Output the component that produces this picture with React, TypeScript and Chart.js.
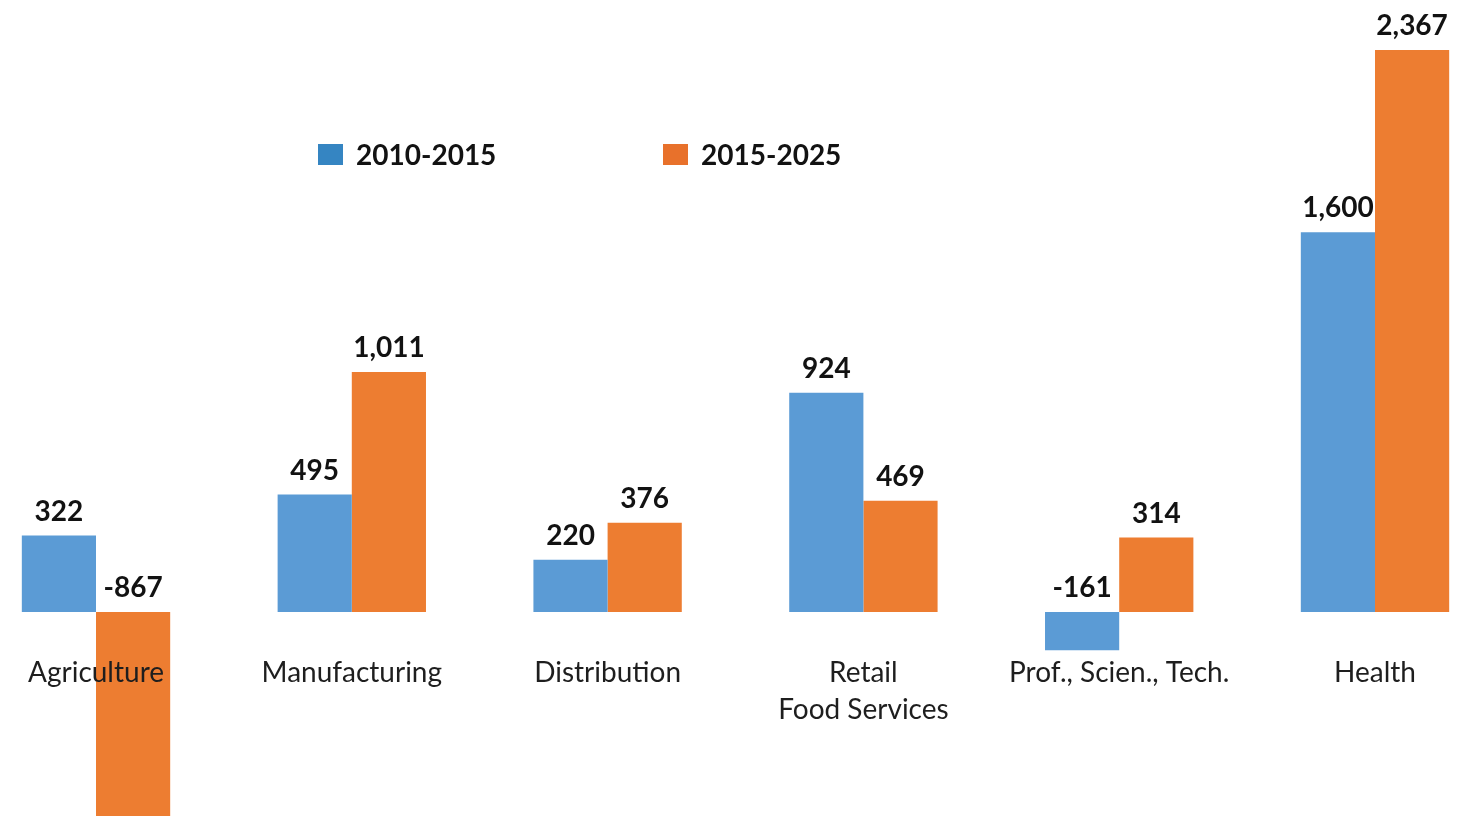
import React, { useEffect, useRef } from 'react';
import { Chart, registerables } from 'chart.js';

Chart.register(...registerables);

// ---- data ----
const categories: (string | string[])[] = [
  'Agriculture',
  'Manufacturing',
  'Distribution',
  ['Retail', 'Food Services'],
  'Prof., Scien., Tech.',
  'Health',
];
const seriesNames = ['2010-2015', '2015-2025'];
const values2010to2015 = [322, 495, 220, 924, -161, 1600];
const values2015to2025 = [-867, 1011, 376, 469, 314, 2367];

// axis range (zero line near lower quarter, tallest bar near the top)
const yMin = -859;
const yMax = 2578;

// ---- styles ----
const FONT = 'Lato, "Open Sans", "Liberation Sans", sans-serif';
const barColors = ['#5B9BD5', '#ED7D31'];
const legendColors = ['#3585C2', '#E8712B'];

const valueLabelsPlugin = {
  id: 'valueLabels',
  afterDatasetsDraw(chart: any) {
    const ctx = chart.ctx;
    ctx.save();
    ctx.font = `bold 28px ${FONT}`;
    ctx.fillStyle = '#121212';
    ctx.textAlign = 'center';
    ctx.textBaseline = 'alphabetic';
    chart.data.datasets.forEach((ds: any, di: number) => {
      const meta = chart.getDatasetMeta(di);
      meta.data.forEach((bar: any, i: number) => {
        const v = ds.data[i] as number;
        const { x, y, base } = bar.getProps(['x', 'y', 'base'], true);
        const edge = Math.min(y, base);
        ctx.fillText(v.toLocaleString('en-US'), x, edge - 15);
      });
    });
    ctx.restore();
  },
};

const customLegendPlugin = {
  id: 'customLegend',
  afterDraw(chart: any, _args: any, opts: any) {
    const ctx = chart.ctx;
    ctx.save();
    ctx.font = `bold 28px ${FONT}`;
    ctx.textAlign = 'left';
    ctx.textBaseline = 'alphabetic';
    chart.data.datasets.forEach((ds: any, i: number) => {
      const x = opts.xs[i];
      ctx.fillStyle = legendColors[i];
      ctx.fillRect(x, opts.y, opts.boxW, opts.boxH);
      ctx.fillStyle = '#121212';
      ctx.fillText(ds.label, x + opts.gap, opts.y + opts.boxH);
    });
    ctx.restore();
  },
};

export default function App() {
  const canvasRef = useRef<HTMLCanvasElement | null>(null);

  useEffect(() => {
    if (!canvasRef.current) return;
    const chart = new Chart(canvasRef.current, {
      type: 'bar',
      data: {
        labels: categories,
        datasets: [
          {
            label: seriesNames[0],
            data: values2010to2015,
            backgroundColor: barColors[0],
            borderWidth: 0,
            clip: false as any,
          },
          {
            label: seriesNames[1],
            data: values2015to2025,
            backgroundColor: barColors[1],
            borderWidth: 0,
            clip: false as any,
          },
        ],
      },
      options: {
        animation: false,
        responsive: true,
        maintainAspectRatio: false,
        layout: { padding: { left: 96, right: 84, top: 0, bottom: 0 } },
        datasets: {
          bar: { categoryPercentage: 0.58, barPercentage: 1.0 },
        },
        scales: {
          x: {
            type: 'category',
            offset: false,
            position: { y: 0 } as any,
            grid: { display: false, drawTicks: true, tickLength: 39 },
            border: { display: false },
            ticks: {
              z: 1,
              autoSkip: false,
              maxRotation: 0,
              minRotation: 0,
              padding: 3,
              color: '#1e1e1e',
              font: { family: FONT, size: 28, lineHeight: 1.32 },
            },
          },
          y: {
            type: 'linear',
            display: false,
            min: yMin,
            max: yMax,
          },
        },
        plugins: {
          legend: { display: false },
          tooltip: { enabled: false },
          customLegend: { xs: [318, 663], y: 144, boxW: 25, boxH: 21, gap: 38 },
        } as any,
      },
      plugins: [valueLabelsPlugin, customLegendPlugin],
    });
    return () => chart.destroy();
  }, []);

  return (
    <div
      style={{
        position: 'fixed',
        left: 0,
        top: 0,
        width: 1459,
        height: 816,
        background: '#ffffff',
      }}
    >
      <canvas ref={canvasRef} style={{ display: 'block' }} />
    </div>
  );
}
